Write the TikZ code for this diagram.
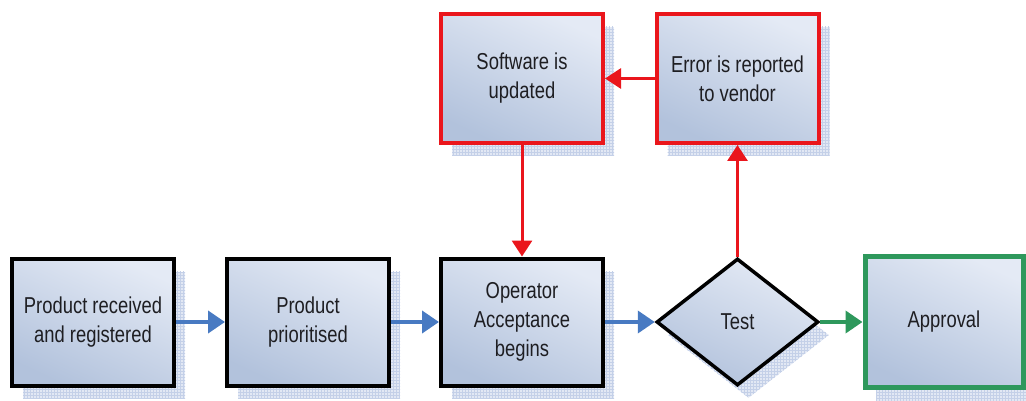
\documentclass[tikz,border=0pt]{standalone}
\usepackage{fontspec}
\setmainfont{Liberation Sans}[FakeStretch=0.8]
\usetikzlibrary{shapes.geometric,arrows.meta,shadows,patterns}

\definecolor{boxlight}{RGB}{228,234,245}
\definecolor{boxdark}{RGB}{178,194,220}
\definecolor{shadowblue}{RGB}{226,232,244}
\definecolor{shadowgrid}{RGB}{196,208,232}
\definecolor{flowblue}{RGB}{72,122,194}
\definecolor{flowred}{RGB}{234,22,28}
\definecolor{flowgreen}{RGB}{46,152,92}
\definecolor{inktext}{RGB}{30,30,34}

\tikzset{
  x=1pt, y=-1pt,
  backshadow/.style={
    general shadow={shadow xshift=11pt, shadow yshift=-13pt, fill=shadowblue, draw=none},
    general shadow={shadow xshift=11pt, shadow yshift=-13pt, pattern=grid, pattern color=shadowgrid, draw=none}},
  procbox/.style={rectangle, backshadow, minimum width=162pt, minimum height=127pt,
    inner sep=0pt, line width=4pt, draw=black, top color=boxlight, bottom color=boxdark,
    shading angle=-25, align=center, text=inktext,
    font=\fontsize{23}{29}\selectfont},
  redbox/.style={procbox, draw=flowred},
  greenbox/.style={procbox, draw=flowgreen, line width=5pt, minimum width=158pt, minimum height=131pt},
  testbox/.style={diamond, backshadow, minimum width=162pt, minimum height=127pt, inner sep=0pt,
    line width=3.5pt, draw=black, top color=boxlight, bottom color=boxdark,
    shading angle=-25, align=center, text=inktext, font=\fontsize{23}{29}\selectfont},
  blueflow/.style={draw=flowblue, line width=4pt, -{Triangle[length=17pt,width=22pt]}},
  redflow/.style={draw=flowred, line width=3pt, -{Triangle[length=16pt,width=20pt]}},
  greenflow/.style={draw=flowgreen, line width=4pt, -{Triangle[length=17pt,width=22pt]}},
}

\begin{document}
\begin{tikzpicture}
\useasboundingbox (0,0) rectangle (1026,401);

% main row
\node[procbox] (recv) at (93,322) {Product received\\and registered};
\node[procbox] (prio) at (308,322) {Product\\prioritised};
\node[procbox] (oper) at (522,322) {Operator\\Acceptance\\begins};
\node[testbox] (test) at (737.5,322) {Test};
\node[greenbox] (appr) at (944,322) {Approval};

% correction loop
\node[redbox, minimum height=129pt] (soft) at (522,78.5) {Software is\\updated};
\node[redbox, minimum height=129pt] (error) at (737.5,78.5) {Error is reported\\to vendor};

% connectors
\draw[blueflow] (recv.east) -- (prio.west);
\draw[blueflow] (prio.east) -- (oper.west);
\draw[blueflow] (oper.east) -- (test.west);
\draw[greenflow] (test.east) -- (appr.west);
\draw[redflow] (test.north) -- (error.south);
\draw[redflow] (error.west) -- (soft.east);
\draw[redflow] (soft.south) -- (oper.north);
\end{tikzpicture}
\end{document}
